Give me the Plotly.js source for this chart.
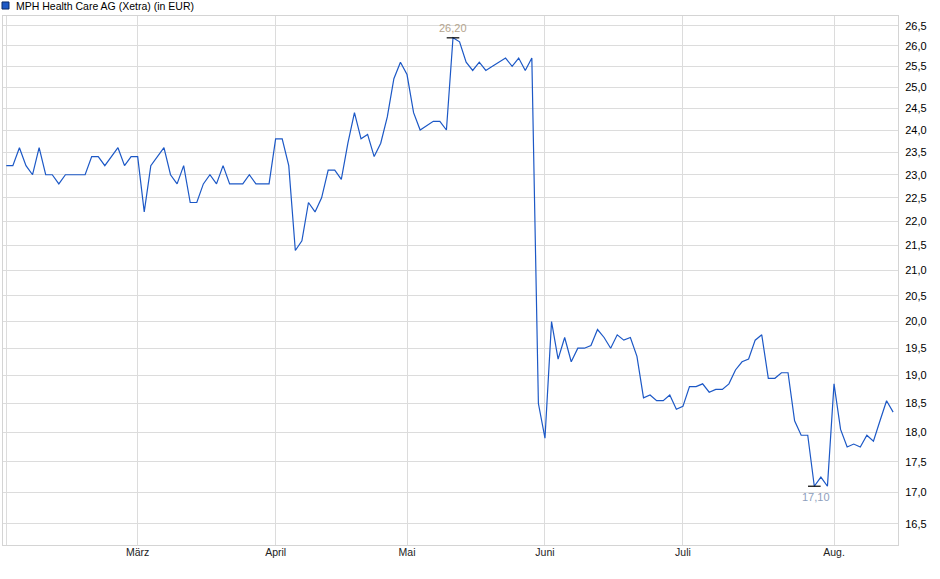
<!DOCTYPE html>
<html>
<head>
<meta charset="utf-8">
<script src="https://cdn.plot.ly/plotly-3.0.1.min.js"></script>
<style>
html,body{margin:0;padding:0;background:#fff;}
#chart{width:940px;height:579px;}
</style>
</head>
<body>
<div id="chart"></div>
<script>
// Trading days (Xetra) Feb 3 – Aug 14, 2025
const dates = [
 '2025-02-03','2025-02-04','2025-02-05','2025-02-06','2025-02-07',
 '2025-02-10','2025-02-11','2025-02-12','2025-02-13','2025-02-14',
 '2025-02-17','2025-02-18','2025-02-19','2025-02-20','2025-02-21',
 '2025-02-24','2025-02-25','2025-02-26','2025-02-27','2025-02-28',
 '2025-03-03','2025-03-04','2025-03-05','2025-03-06','2025-03-07',
 '2025-03-10','2025-03-11','2025-03-12','2025-03-13','2025-03-14',
 '2025-03-17','2025-03-18','2025-03-19','2025-03-20','2025-03-21',
 '2025-03-24','2025-03-25','2025-03-26','2025-03-27','2025-03-28',
 '2025-03-31',
 '2025-04-01','2025-04-02','2025-04-03','2025-04-04',
 '2025-04-07','2025-04-08','2025-04-09','2025-04-10','2025-04-11',
 '2025-04-14','2025-04-15','2025-04-16','2025-04-17',
 '2025-04-22','2025-04-23','2025-04-24','2025-04-25',
 '2025-04-28','2025-04-29','2025-04-30',
 '2025-05-02',
 '2025-05-05','2025-05-06','2025-05-07','2025-05-08','2025-05-09',
 '2025-05-12','2025-05-13','2025-05-14','2025-05-15','2025-05-16',
 '2025-05-19','2025-05-20','2025-05-21','2025-05-22','2025-05-23',
 '2025-05-26','2025-05-27','2025-05-28','2025-05-29','2025-05-30',
 '2025-06-02','2025-06-03','2025-06-04','2025-06-05','2025-06-06',
 '2025-06-09','2025-06-10','2025-06-11','2025-06-12','2025-06-13',
 '2025-06-16','2025-06-17','2025-06-18','2025-06-19','2025-06-20',
 '2025-06-23','2025-06-24','2025-06-25','2025-06-26','2025-06-27',
 '2025-06-30',
 '2025-07-01','2025-07-02','2025-07-03','2025-07-04',
 '2025-07-07','2025-07-08','2025-07-09','2025-07-10','2025-07-11',
 '2025-07-14','2025-07-15','2025-07-16','2025-07-17','2025-07-18',
 '2025-07-21','2025-07-22','2025-07-23','2025-07-24','2025-07-25',
 '2025-07-28','2025-07-29','2025-07-30','2025-07-31',
 '2025-08-01',
 '2025-08-04','2025-08-05','2025-08-06','2025-08-07','2025-08-08',
 '2025-08-11','2025-08-12','2025-08-13','2025-08-14'
];

// Closing prices in EUR
const prices = [
 23.2,23.2,23.6,23.2,23.0, 23.6,23.0,23.0,22.8,23.0,
 23.0,23.0,23.0,23.4,23.4, 23.2,23.4,23.6,23.2,23.4,
 23.4,22.2,23.2,23.4,23.6, 23.0,22.8,23.2,22.4,22.4,
 22.8,23.0,22.8,23.2,22.8, 22.8,22.8,23.0,22.8,22.8,
 22.8,
 23.8,23.8,23.2,21.4, 21.6,22.4,22.2,22.5,23.1,
 23.1,22.9,23.7,24.4, 23.8,23.9,23.4,23.7,
 24.3,25.2,25.6,
 25.3,
 24.4,24.0,24.1,24.2,24.2, 24.0,26.2,26.1,25.6,25.4,
 25.6,25.4,25.5,25.6,25.7, 25.5,25.7,25.4,25.7,18.5,
 17.9,20.0,19.3,19.7,19.25, 19.5,19.5,19.55,19.85,19.7,
 19.5,19.75,19.65,19.7,19.35, 18.6,18.65,18.55,18.55,18.65,
 18.4,
 18.45,18.8,18.8,18.85, 18.7,18.75,18.75,18.85,19.1,
 19.25,19.3,19.65,19.75,18.95, 18.95,19.05,19.05,18.2,17.95,
 17.95,17.1,17.25,17.1,
 18.85,
 18.05,17.75,17.8,17.75,17.95, 17.85,18.2,18.55,18.35
];

const seriesName = 'MPH Health Care AG (Xetra) (in EUR)';
const monthTickDates = ['2025-02-03','2025-03-03','2025-04-01','2025-05-02','2025-06-02','2025-07-01','2025-08-01'];
const monthTickLabels = ['','März','April','Mai','Juni','Juli','Aug.'];
const yTicks = [16.5,17,17.5,18,18.5,19,19.5,20,20.5,21,21.5,22,22.5,23,23.5,24,24.5,25,25.5,26,26.5];

const fmt = (v, d) => v.toFixed(d).replace('.', ',');

const maxVal = Math.max(...prices);
const minVal = Math.min(...prices);
const iMax = prices.indexOf(maxVal);
const iMin = prices.indexOf(minVal);

const FONT = 'Arial, "Liberation Sans", sans-serif';

const traces = [
 {
  x: dates, y: prices, type: 'scatter', mode: 'lines',
  line: {color: '#1c58c6', width: 1.2},
  name: seriesName, showlegend: false, hoverinfo: 'x+y'
 },
 {
  x: [dates[iMax], dates[iMin]], y: [maxVal, minVal],
  type: 'scatter', mode: 'markers', showlegend: false, hoverinfo: 'skip',
  marker: {symbol: 'line-ew', size: 9, line: {color: '#000', width: 1.2}}
 }
];

const layout = {
 width: 940, height: 579,
 margin: {l: 3, r: 42, t: 16, b: 34, pad: 0},
 paper_bgcolor: '#fff', plot_bgcolor: '#fff',
 font: {family: FONT, size: 11, color: '#000'},
 xaxis: {
  type: 'category',
  range: [-0.5, 135.74],
  tickvals: monthTickDates, ticktext: monthTickLabels,
  showgrid: true, gridcolor: '#dcdcdc', gridwidth: 1,
  showline: true, linecolor: '#d4d4d4', linewidth: 1, mirror: true,
  ticks: '', ticklabelstandoff: -3,
  tickfont: {family: FONT, size: 10.5, color: '#222'},
  zeroline: false, fixedrange: true
 },
 yaxis: {
  type: 'log', side: 'right',
  range: [Math.log10(16.17), Math.log10(26.75)],
  tickvals: yTicks, ticktext: yTicks.map(v => fmt(v, 1)),
  showgrid: true, gridcolor: '#dcdcdc', gridwidth: 1,
  showline: true, linecolor: '#d4d4d4', linewidth: 1, mirror: true,
  ticks: '', ticklabelstandoff: 4,
  tickfont: {family: FONT, size: 11, color: '#000'},
  zeroline: false, fixedrange: true
 },
 shapes: [
  {type: 'rect', xref: 'paper', yref: 'paper',
   x0: -0.0011, x1: 0.0067, y0: 1.0132, y1: 1.0265,
   fillcolor: '#1c58c6', line: {color: '#0a2a66', width: 1}}
 ],
 annotations: [
  {xref: 'paper', yref: 'paper', x: 0.0123, y: 1.019, xanchor: 'left', yanchor: 'middle',
   text: seriesName, showarrow: false, font: {family: FONT, size: 10.5, color: '#000'}},
  {x: dates[iMax], y: Math.log10(maxVal), xref: 'x', yref: 'y',
   text: fmt(maxVal, 2), showarrow: false, yanchor: 'bottom', yshift: 2,
   font: {family: FONT, size: 11, color: '#b4a48e'}},
  {x: dates[iMin], y: Math.log10(minVal), xref: 'x', yref: 'y',
   text: fmt(minVal, 2), showarrow: false, yanchor: 'top', yshift: -3, xshift: 2,
   font: {family: FONT, size: 11, color: '#8ea0bd'}}
 ]
};

Plotly.newPlot('chart', traces, layout, {displayModeBar: false, staticPlot: true});
</script>
</body>
</html>
